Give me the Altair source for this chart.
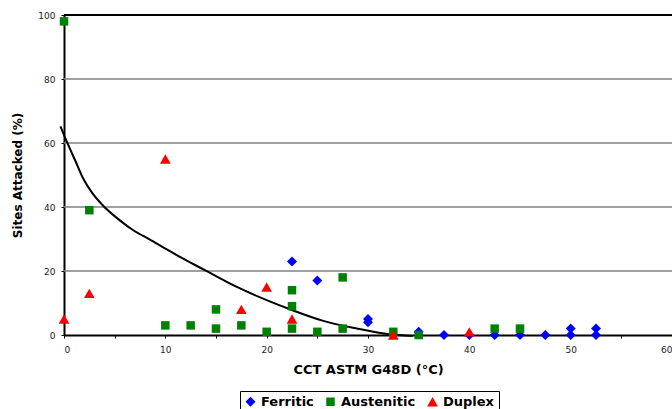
import altair as alt
import pandas as pd

# Data
ferr_x = [22.5, 25, 30, 30, 35, 37.5, 40, 42.5, 45, 47.5, 50, 50, 52.5, 52.5]
ferr_y = [23, 17, 5, 4, 1, 0, 0, 0, 0, 0, 2, 0, 2, 0]
aus_x = [0, 2.5, 10, 12.5, 15, 15, 17.5, 20, 22.5, 22.5, 22.5, 25, 27.5, 27.5, 32.5, 35, 42.5, 45]
aus_y = [98, 39, 3, 3, 8, 2, 3, 1, 14, 9, 2, 1, 18, 2, 1, 0, 2, 2]
dup_x = [0, 2.5, 10, 17.5, 20, 22.5, 32.5, 40]
dup_y = [5, 13, 55, 8, 15, 5, 0, 1]
fit_x = [-0.35, 0.31, 1.14, 1.96, 2.78, 3.77, 5.48, 6.8, 8.44, 10.1, 11.9, 14.0, 17.0, 20.0,
         22.5, 25.5, 28.8, 32.1, 34.4]
fit_y = [65.2, 60.2, 54.3, 48.5, 44.4, 40.7, 35.9, 32.8, 29.9, 26.8, 23.6, 20.1, 15.1, 10.9,
         7.8, 4.5, 2.1, 0.2, -0.3]
series = ["Ferritic", "Austenitic", "Duplex"]
colors = ["#0000FF", "#008000", "#FF0000"]
shapes = ["diamond", "square", "triangle-up"]
sizes = [100, 72, 115]
grid_y = [20, 40, 60, 80]
x_ticks = [0, 5, 10, 15, 20, 25, 30, 35, 40, 45, 50, 55, 60]
y_ticks = [0, 10, 20, 30, 40, 50, 60, 70, 80, 90, 100]

W, H = 608, 320

pts = pd.DataFrame(
    [{"x": x, "y": y, "s": "Ferritic", "o": 0} for x, y in zip(ferr_x, ferr_y)]
    + [{"x": x, "y": y, "s": "Austenitic", "o": 1} for x, y in zip(aus_x, aus_y)]
    + [{"x": x, "y": y, "s": "Duplex", "o": 2} for x, y in zip(dup_x, dup_y)]
)
fit = pd.DataFrame({"x": fit_x, "y": fit_y})
grid = pd.DataFrame({"y": grid_y})

xs = alt.Scale(domain=[0, 60], nice=False, zero=False)
ys = alt.Scale(domain=[0, 100], nice=False, zero=False)

x_axis = alt.Axis(
    values=x_ticks, labelExpr="datum.value % 10 == 0 ? datum.label : ''",
    title="CCT ASTM G48D (°C)", grid=False, domainColor="black", domainWidth=2,
    tickColor="black", tickSize=3, tickWidth=1, labelFont="DejaVu Sans", labelFontSize=9,
    labelColor="#222", labelPadding=7, titleFont="DejaVu Sans", titleFontSize=13,
    titleFontWeight="bold", titleColor="black", titlePadding=9,
)
y_axis = alt.Axis(
    values=y_ticks, labelExpr="datum.value % 20 == 0 ? datum.label : ''",
    title="Sites Attacked (%)", grid=False, domainColor="black", domainWidth=2,
    tickColor="black", tickSize=3, tickWidth=1, labelFont="DejaVu Sans", labelFontSize=9,
    labelColor="#222", labelPadding=6, titleFont="DejaVu Sans", titleFontSize=12,
    titleFontWeight="bold", titleColor="black", titlePadding=13,
)

legend = alt.Legend(
    title=None, orient="none", legendX=176, legendY=376, direction="horizontal",
    strokeColor="black", fillColor="white", padding=4, columnPadding=10,
    symbolStrokeWidth=0, labelFont="DejaVu Sans", labelFontSize=13,
    labelFontWeight="bold", labelColor="black", labelOffset=4,
)

gridlines = alt.Chart(grid).mark_rule(color="#808080", strokeWidth=1.5).encode(
    y=alt.Y("y:Q", scale=ys, axis=y_axis)
)
topline = alt.Chart(grid).mark_rule(color="black", strokeWidth=2).encode(
    x=alt.value(0), x2=alt.value(W), y=alt.value(0)
)
curve = alt.Chart(fit).mark_line(color="black", strokeWidth=2, interpolate="monotone").encode(
    x=alt.X("x:Q", scale=xs, axis=x_axis), y=alt.Y("y:Q", scale=ys), order="x:Q"
)
points = alt.Chart(pts).mark_point(filled=True, opacity=1, strokeWidth=0).encode(
    x=alt.X("x:Q", scale=xs),
    y=alt.Y("y:Q", scale=ys),
    color=alt.Color("s:N", scale=alt.Scale(domain=series, range=colors), sort=series,
                    legend=legend),
    shape=alt.Shape("s:N", scale=alt.Scale(domain=series, range=shapes), sort=series,
                    legend=legend),
    size=alt.Size("s:O", scale=alt.Scale(type="ordinal", domain=series, range=sizes),
                  sort=series, legend=legend),
    order="o:Q",
)

chart = alt.layer(gridlines, topline, curve, points).properties(
    width=W, height=H,
    autosize=alt.AutoSizeParams(type="none"),
    padding={"left": 64, "top": 15, "right": 0, "bottom": 74},
).configure_view(stroke=None).configure(background="white")

chart.save("out.html", embed_options={"renderer": "svg", "actions": False})
